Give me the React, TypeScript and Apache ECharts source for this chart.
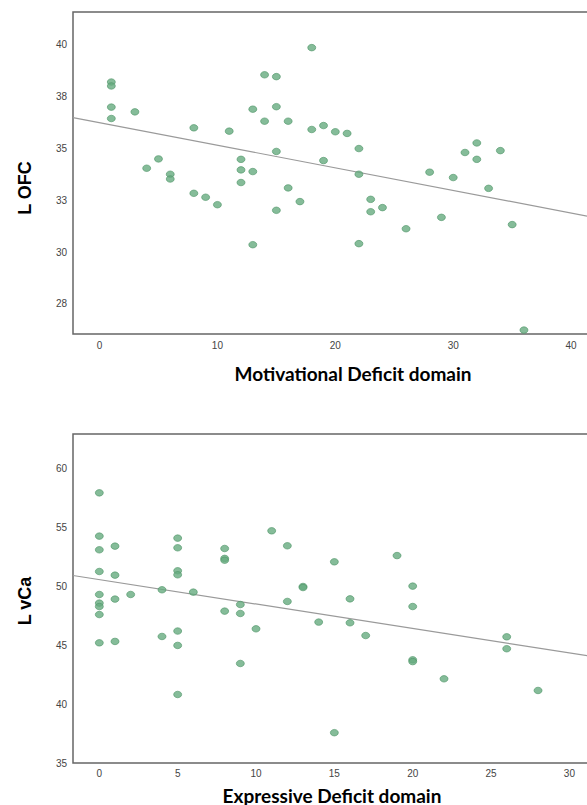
import { useEffect, useRef } from 'react';
import * as echarts from 'echarts';

// Top panel: Motivational Deficit domain vs L OFC
const motivX = [1, 1, 1, 1, 3, 4, 5, 6, 6, 8, 8, 9, 10, 11, 12, 12, 12, 13, 13, 13, 14, 14, 15, 15, 15, 15, 16, 16, 17, 18, 18, 19, 19, 20, 21, 22, 22, 22, 23, 23, 24, 26, 28, 29, 30, 31, 32, 32, 33, 34, 35, 36];
const ofcY = [38.21, 38.02, 37.0, 36.45, 36.77, 34.05, 34.5, 33.76, 33.53, 36.0, 32.84, 32.65, 32.29, 35.84, 34.48, 33.97, 33.36, 36.9, 33.89, 30.36, 38.56, 36.32, 38.47, 37.02, 34.86, 32.02, 36.32, 33.1, 32.44, 39.87, 35.92, 36.11, 34.42, 35.81, 35.73, 35.0, 33.76, 30.41, 32.55, 31.95, 32.15, 31.13, 33.86, 31.68, 33.6, 34.81, 35.27, 34.48, 33.08, 34.9, 31.33, 26.24];
const motivTicks = [0, 10, 20, 30, 40];
const ofcTicks = [27.5, 30, 32.5, 35, 37.5, 40];
const ofcFitIntercept = 36.25;
const ofcFitSlope = -0.109;

// Bottom panel: Expressive Deficit domain vs L vCa
const exprX = [0, 0, 0, 0, 0, 0, 0, 0, 0, 1, 1, 1, 1, 2, 4, 4, 5, 5, 5, 5, 5, 5, 5, 6, 8, 8, 8, 8, 9, 9, 9, 10, 11, 12, 12, 13, 13, 14, 15, 15, 16, 16, 17, 19, 20, 20, 20, 20, 22, 26, 26, 28];
const vcaY = [57.91, 54.24, 53.08, 51.24, 49.29, 48.56, 48.27, 47.59, 45.19, 53.39, 50.93, 48.9, 45.31, 49.29, 49.69, 45.73, 54.07, 53.25, 51.3, 50.96, 46.19, 44.97, 40.81, 49.49, 53.19, 52.35, 52.2, 47.88, 48.44, 47.68, 43.44, 46.38, 54.69, 53.42, 48.7, 49.97, 49.88, 46.95, 52.06, 37.57, 48.92, 46.89, 45.81, 52.59, 50.0, 48.27, 43.75, 43.6, 42.14, 45.7, 44.69, 41.15];
const exprTicks = [0, 5, 10, 15, 20, 25, 30];
const vcaTicks = [35, 40, 45, 50, 55, 60];
const vcaFitIntercept = 50.55;
const vcaFitSlope = -0.207;

const titles = {
  topX: 'Motivational Deficit domain',
  topY: 'L OFC',
  botX: 'Expressive Deficit domain',
  botY: 'L vCa',
};

const TOP_X_RANGE = [-2.25, 45.25];
const TOP_Y_RANGE = [26.05, 41.59];
const BOT_X_RANGE = [-1.68, 31.38];
const BOT_Y_RANGE = [35, 62.9];

const dotStyle = { color: '#66ab80', borderColor: '#4f9468', borderWidth: 0.8 };
const tickLabel = { color: '#444', fontSize: 10, fontFamily: 'Liberation Sans, Arial, sans-serif' };

function fitLine(a: number, b: number, range: number[]) {
  return range.map((x) => [x, a + b * x]);
}

export default function App() {
  const ref = useRef<HTMLDivElement>(null);
  useEffect(() => {
    if (!ref.current) return;
    const chart = echarts.init(ref.current, undefined, { renderer: 'svg' });
    const axisCommon = {
      axisLine: { show: false },
      axisTick: { show: false },
      splitLine: { show: false },
    };
    chart.setOption({
      animation: false,
      grid: [
        { left: 73, top: 12, width: 560, height: 322, outerBoundsMode: 'none', show: true, borderColor: '#666', borderWidth: 1.5, backgroundColor: 'transparent' },
        { left: 73, top: 434, width: 518, height: 329, outerBoundsMode: 'none', show: true, borderColor: '#666', borderWidth: 1.5, backgroundColor: 'transparent' },
      ],
      xAxis: [
        {
          gridIndex: 0, type: 'value', min: TOP_X_RANGE[0], max: TOP_X_RANGE[1], ...axisCommon,
          axisLabel: { ...tickLabel, margin: 6, customValues: motivTicks, formatter: (v: number) => String(Math.round(v)) },
        },
        {
          gridIndex: 1, type: 'value', min: BOT_X_RANGE[0], max: BOT_X_RANGE[1], ...axisCommon,
          axisLabel: { ...tickLabel, margin: 5, customValues: exprTicks, formatter: (v: number) => String(Math.round(v)) },
        },
      ],
      yAxis: [
        {
          gridIndex: 0, type: 'value', min: TOP_Y_RANGE[0], max: TOP_Y_RANGE[1], ...axisCommon,
          axisLabel: { ...tickLabel, margin: 6, customValues: ofcTicks, formatter: (v: number) => String(Math.round(v)) },
        },
        {
          gridIndex: 1, type: 'value', min: BOT_Y_RANGE[0], max: BOT_Y_RANGE[1], ...axisCommon,
          axisLabel: { ...tickLabel, margin: 6, customValues: vcaTicks, formatter: (v: number) => String(Math.round(v)) },
        },
      ],
      series: [
        {
          type: 'line', xAxisIndex: 0, yAxisIndex: 0, data: fitLine(ofcFitIntercept, ofcFitSlope, TOP_X_RANGE),
          symbol: 'none', lineStyle: { color: '#9a9a9a', width: 1.2 }, z: 1, silent: true,
        },
        {
          type: 'scatter', xAxisIndex: 0, yAxisIndex: 0, data: motivX.map((x, i) => [x, ofcY[i]]),
          symbol: 'circle', symbolSize: [8, 6.5], itemStyle: dotStyle, z: 2,
        },
        {
          type: 'line', xAxisIndex: 1, yAxisIndex: 1, data: fitLine(vcaFitIntercept, vcaFitSlope, BOT_X_RANGE),
          symbol: 'none', lineStyle: { color: '#9a9a9a', width: 1.2 }, z: 1, silent: true,
        },
        {
          type: 'scatter', xAxisIndex: 1, yAxisIndex: 1, data: exprX.map((x, i) => [x, vcaY[i]]),
          symbol: 'circle', symbolSize: [8, 6.5], itemStyle: dotStyle, z: 2,
        },
      ],
      graphic: [
        { type: 'text', x: 25, y: 188, rotation: Math.PI / 2, style: { text: titles.topY, align: 'center', verticalAlign: 'middle', fill: '#000', font: 'bold 18px "Liberation Sans", Arial, sans-serif' } },
        { type: 'text', x: 25, y: 601, rotation: Math.PI / 2, style: { text: titles.botY, align: 'center', verticalAlign: 'middle', fill: '#000', font: 'bold 18px "Liberation Sans", Arial, sans-serif' } },
        { type: 'text', x: 353, y: 373, style: { text: titles.topX, align: 'center', verticalAlign: 'middle', fill: '#000', font: 'bold 19px Lato, sans-serif' } },
        { type: 'text', x: 332, y: 795, style: { text: titles.botX, align: 'center', verticalAlign: 'middle', fill: '#000', font: 'bold 19px Lato, sans-serif' } },
      ],
    });
    return () => chart.dispose();
  }, []);
  return (
    <div style={{ position: 'absolute', left: 0, top: 0, width: 587, height: 805, overflow: 'hidden' }}>
      <div ref={ref} style={{ width: 660, height: 805 }} />
    </div>
  );
}
